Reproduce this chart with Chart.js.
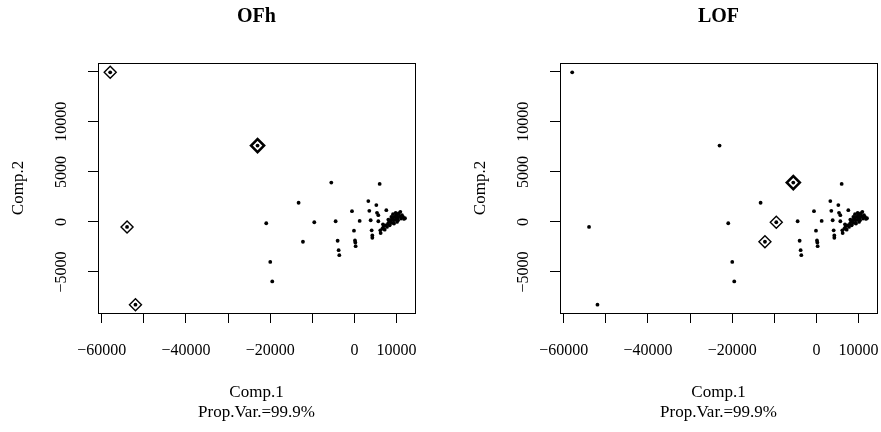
<!DOCTYPE html>
<html>
<head>
<meta charset="utf-8">
<script src="https://cdn.jsdelivr.net/npm/chart.js@4.4.1/dist/chart.umd.min.js"></script>
<style>
	html, body { margin: 0; padding: 0; background: #fff; }
	#wrap { position: relative; width: 881px; height: 432px; overflow: hidden; }
	#wrap canvas { position: absolute; top: 0; }
</style>
</head>
<body>
<div id="wrap">
	<canvas id="ofh-chart" width="440" height="432" style="left:0"></canvas>
	<canvas id="lof-chart" width="460" height="432" style="left:440px"></canvas>
</div>
<script>
/**
 * Principal component scores (Comp.1, Comp.2).
 */
var comp1 = [
	-58000, -54000, -52000, -23000, -20935, -19984, -19508, -13248, -12218, -9524,
	-5483, -4453, -3977, -3740, -3581, -570, -95, 143, 222, 302,
	1253, 3313, 3550, 3867, 4105, 4264, 4264, 5215, 6007, 5373,
	5690, 5690, 6165, 6245, 7592, 6641, 6958, 7196, 7433, 7750,
	7988, 8226, 8384, 8622, 8860, 9018, 9177, 9335, 9573, 9810,
	9969, 10127, 10286, 10524, 10761, 10920, 11078, 11316, 11554, 11791,
	12029, 10365, 9414, 8780, 8067, 9810, 6799
];
var comp2 = [
	14950, -500, -8270, 7630, -134, -3998, -5947, 1915, -1982, -34,
	3931, 67, -1882, -2822, -3326, 1075, -874, -1848, -2050, -2419,
	101, 2083, 1109, 168, -840, -1344, -1579, 1680, 3797, 907,
	672, 67, -840, -1109, 1176, -672, -437, -773, -336, -504,
	-168, 0, -336, 168, -101, 336, 773, 168, 504, 235,
	672, 0, 437, 840, 571, 1008, 336, 672, 504, 302,
	370, 168, -168, 504, 235, 907, -235
];

var chartTitles = [ 'OFh', 'LOF' ];
var xAxisTitle = [ 'Comp.1', 'Prop.Var.=99.9%' ];
var yAxisTitle = 'Comp.2';

var xTicks = [ -60000, -50000, -40000, -30000, -20000, -10000, 0, 10000 ];
var xTickLabels = [ '\u221260000', '', '\u221240000', '', '\u221220000', '', '0', '10000' ];
var yTicks = [ -5000, 0, 5000, 10000, 15000 ];
var yTickLabels = [ '\u22125000', '0', '5000', '10000', '' ];

// Indices of the points flagged as outliers by each method.
var ofhFlagged = [ 0, 1, 2 ];
var ofhStrongest = [ 3 ];
var lofFlagged = [ 8, 9 ];
var lofStrongest = [ 10 ];

( function() {
	'use strict';

	var SERIF = '"Liberation Serif", "DejaVu Serif", serif';
	var TICK_SIZE = 16;
	var LABEL_SIZE = 17;

	Chart.defaults.font.family = SERIF;
	Chart.defaults.color = '#000';

	/**
	 * Turn a list of point indices into scatter data.
	 *
	 * @param {Array} idx Indices into comp1 / comp2.
	 * @return {Array} Array of { x, y } objects.
	 */
	function pick( idx ) {
		return idx.map( function( i ) {
			return { x: comp1[ i ], y: comp2[ i ] };
		} );
	}

	/**
	 * Draws the R style frame and the rotated y tick labels.
	 */
	var framePlugin = {
		id: 'rFrame',
		afterDraw: function( chart, args, opts ) {
			var ctx = chart.ctx;
			var yScale = chart.scales.y;
			var a = chart.chartArea;

			ctx.save();
			ctx.strokeStyle = '#000';
			ctx.lineWidth = 1;
			ctx.strokeRect( Math.round( a.left ) + 0.5, Math.round( a.top ) + 0.5,
				Math.round( a.right - a.left ), Math.round( a.bottom - a.top ) );

			ctx.fillStyle = '#000';
			ctx.font = TICK_SIZE + 'px ' + SERIF;
			ctx.textAlign = 'center';
			ctx.textBaseline = 'middle';
			yTicks.forEach( function( v, i ) {
				if ( ! yTickLabels[ i ] ) {
					return;
				}
				ctx.save();
				ctx.translate( opts.labelX, yScale.getPixelForValue( v ) );
				ctx.rotate( -Math.PI / 2 );
				ctx.fillText( yTickLabels[ i ], 0, 0 );
				ctx.restore();
			} );
			ctx.restore();
		}
	};

	/**
	 * Build one of the two panels.
	 *
	 * @param {string} canvasId Canvas element id.
	 * @param {string} title    Panel title.
	 * @param {Array}  flagged  Indices drawn with a thin diamond.
	 * @param {Array}  strong   Indices drawn with a heavy diamond.
	 * @param {Object} geo      Panel geometry.
	 * @return {Chart} The Chart.js instance.
	 */
	function buildPanel( canvasId, title, flagged, strong, geo ) {
		var all = comp1.map( function( x, i ) {
			return i;
		} );

		return new Chart( document.getElementById( canvasId ), {
			type: 'scatter',
			data: {
				datasets: [ {
					data: pick( all ),
					pointStyle: 'circle',
					pointRadius: 1.9,
					backgroundColor: '#000',
					borderWidth: 0
				}, {
					data: pick( flagged ),
					pointStyle: 'rectRot',
					pointRadius: 6,
					backgroundColor: 'rgba(0,0,0,0)',
					borderColor: '#000',
					borderWidth: 1.4
				}, {
					data: pick( strong ),
					pointStyle: 'rectRot',
					pointRadius: 6.5,
					backgroundColor: 'rgba(0,0,0,0)',
					borderColor: '#000',
					borderWidth: 2.6
				} ]
			},
			options: {
				responsive: false,
				animation: false,
				events: [],
				layout: {
					padding: { left: 0, right: geo.padRight, top: 0, bottom: 0 }
				},
				plugins: {
					legend: { display: false },
					tooltip: { enabled: false },
					title: {
						display: true,
						text: title,
						fullSize: false,
						font: { size: 20, weight: 'bold', family: SERIF, lineHeight: 1.2 },
						color: '#000',
						padding: { top: 5, bottom: 34 }
					},
					rFrame: { labelX: geo.labelX }
				},
				scales: {
					x: {
						type: 'linear',
						min: -60900,
						max: 14400,
						afterBuildTicks: function( scale ) {
							scale.ticks = xTicks.map( function( v ) {
								return { value: v };
							} );
						},
						afterFit: function( scale ) {
							scale.height = 119;
							scale.paddingLeft = 0;
							scale.paddingRight = 0;
						},
						ticks: {
							autoSkip: false,
							maxRotation: 0,
							minRotation: 0,
							padding: 18,
							font: { size: TICK_SIZE },
							color: '#000',
							callback: function( v ) {
								var i = xTicks.indexOf( v );
								return i < 0 ? '' : xTickLabels[ i ];
							}
						},
						grid: {
							drawOnChartArea: false,
							drawTicks: true,
							tickLength: 10,
							color: '#000',
							lineWidth: 1
						},
						border: { display: true, color: '#000', width: 1 },
						title: {
							display: true,
							text: xAxisTitle,
							font: { size: LABEL_SIZE, lineHeight: 1.15 },
							color: '#000',
							padding: { top: 0, bottom: 10 }
						}
					},
					y: {
						type: 'linear',
						min: -9100,
						max: 15880,
						afterBuildTicks: function( scale ) {
							scale.ticks = yTicks.map( function( v ) {
								return { value: v };
							} );
						},
						afterFit: function( scale ) {
							scale.width = geo.yWidth;
							scale.paddingTop = 0;
							scale.paddingBottom = 0;
						},
						ticks: {
							font: { size: TICK_SIZE },
							callback: function() {
								return '';
							}
						},
						grid: {
							drawOnChartArea: false,
							drawTicks: true,
							tickLength: 10,
							color: '#000',
							lineWidth: 1
						},
						border: { display: true, color: '#000', width: 1 },
						title: {
							display: true,
							text: yAxisTitle,
							font: { size: LABEL_SIZE, lineHeight: 1.2 },
							color: '#000',
							padding: { top: geo.titlePad, bottom: 0 }
						}
					}
				}
			},
			plugins: [ framePlugin ]
		} );
	}

	buildPanel( 'ofh-chart', chartTitles[ 0 ], ofhFlagged, ofhStrongest,
		{ yWidth: 98, padRight: 25, labelX: 62, titlePad: 8.8 } );
	buildPanel( 'lof-chart', chartTitles[ 1 ], lofFlagged, lofStrongest,
		{ yWidth: 120, padRight: 23, labelX: 84, titlePad: 30.8 } );
} )();
</script>
</body>
</html>
